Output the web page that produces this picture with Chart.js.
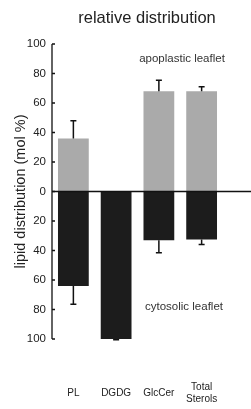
<!DOCTYPE html>
<html>
<head>
<meta charset="utf-8">
<script src="https://cdn.jsdelivr.net/npm/chart.js@4"></script>
<style>
  html, body { margin: 0; padding: 0; background: #fff; }
  #wrap { width: 251px; height: 409px; }
</style>
</head>
<body>
<div id="wrap"><canvas id="chart"></canvas></div>
<script>
// --- data ---
const categories = ["PL", "DGDG", "GlcCer", ["Total", "Sterols"]];
const apoplastic = [36, 0, 68, 68];        // mol % (upper leaflet)
const apoplasticErr = [12, 0, 7.5, 3];
const cytosolic = [64, 100, 33, 32.5];     // mol % (lower leaflet, drawn downward)
const cytosolicErr = [12.5, 0.5, 8.5, 3.5];
const yTicks = [-100, -80, -60, -40, -20, 0, 20, 40, 60, 80, 100];

const FONT = "'Liberation Sans', Arial, sans-serif";

// error bars (one-sided, away from zero) + zero line + inward ticks + texts
const extras = {
  id: "extras",
  afterDatasetsDraw(chart) {
    const { ctx, chartArea, scales } = chart;
    const y = scales.y;
    ctx.save();
    ctx.strokeStyle = "#111";
    ctx.lineWidth = 1.5;
    const drawErr = (dsIndex, vals, errs, sign) => {
      const meta = chart.getDatasetMeta(dsIndex);
      meta.data.forEach((bar, i) => {
        if (!errs[i]) return;
        const v = sign * vals[i];
        const end = sign * (vals[i] + errs[i]);
        const x = bar.x;
        const y0 = y.getPixelForValue(v);
        const y1 = y.getPixelForValue(end);
        ctx.beginPath();
        ctx.moveTo(x, y0);
        ctx.lineTo(x, y1);
        ctx.moveTo(x - 3, y1);
        ctx.lineTo(x + 3, y1);
        ctx.stroke();
      });
    };
    drawErr(0, apoplastic, apoplasticErr, 1);
    drawErr(1, cytosolic, cytosolicErr, -1);

    // zero line across to the right edge
    const z = y.getPixelForValue(0);
    ctx.lineWidth = 1.5;
    ctx.beginPath();
    ctx.moveTo(chartArea.left, z);
    ctx.lineTo(chart.width, z);
    ctx.stroke();

    // y axis line with inward ticks
    ctx.lineWidth = 1.3;
    ctx.beginPath();
    ctx.moveTo(chartArea.left, y.getPixelForValue(100));
    ctx.lineTo(chartArea.left, y.getPixelForValue(-100));
    yTicks.forEach(t => {
      const py = y.getPixelForValue(t);
      ctx.moveTo(chartArea.left, py);
      ctx.lineTo(chartArea.left + 3, py);
    });
    ctx.stroke();

    // title and leaflet labels
    ctx.fillStyle = "#222";
    ctx.textAlign = "center";
    ctx.textBaseline = "middle";
    ctx.font = "16.5px " + FONT;
    ctx.fillText("relative distribution", chartArea.left + 95, 18);
    ctx.font = "11.5px " + FONT;
    ctx.fillStyle = "#333";
    ctx.fillText("apoplastic leaflet", chartArea.left + 130, y.getPixelForValue(90));
    ctx.fillText("cytosolic leaflet", chartArea.left + 132, y.getPixelForValue(-78));
    ctx.restore();
  }
};

new Chart(document.getElementById("chart"), {
  type: "bar",
  data: {
    labels: categories,
    datasets: [
      {
        label: "apoplastic leaflet",
        data: apoplastic,
        backgroundColor: "#aaaaaa",
        barPercentage: 0.72,
        categoryPercentage: 1,
        grouped: false
      },
      {
        label: "cytosolic leaflet",
        data: cytosolic.map(v => -v),
        backgroundColor: "#1c1c1c",
        barPercentage: 0.72,
        categoryPercentage: 1,
        grouped: false
      }
    ]
  },
  options: {
    responsive: true,
    maintainAspectRatio: false,
    animation: false,
    layout: { padding: { top: 44, right: 28, left: 12, bottom: 0 } },
    plugins: {
      legend: { display: false },
      tooltip: { enabled: false }
    },
    scales: {
      x: {
        grid: { display: false, drawTicks: false },
        border: { display: false },
        afterFit: (axis) => {
          axis.height = 70;
          axis.paddingLeft = 0;
          axis.paddingRight = 0;
        },
        ticks: {
          color: "#222",
          font: { family: FONT, size: 10 },
          padding: 48,
          crossAlign: "center",
          maxRotation: 0,
          autoSkip: false
        }
      },
      y: {
        min: -100,
        max: 100,
        afterBuildTicks: (axis) => { axis.ticks = yTicks.map(v => ({ value: v })); },
        afterFit: (axis) => { axis.width = 40; },
        grid: { display: false, drawTicks: false },
        border: { display: false },
        ticks: {
          color: "#222",
          font: { family: FONT, size: 11.5 },
          padding: 6,
          callback: v => Math.abs(v)
        },
        title: {
          display: true,
          text: "lipid distribution (mol %)",
          color: "#222",
          font: { family: FONT, size: 14.5 },
          padding: { top: 0, bottom: 3 }
        }
      }
    }
  },
  plugins: [extras]
});
</script>
</body>
</html>
